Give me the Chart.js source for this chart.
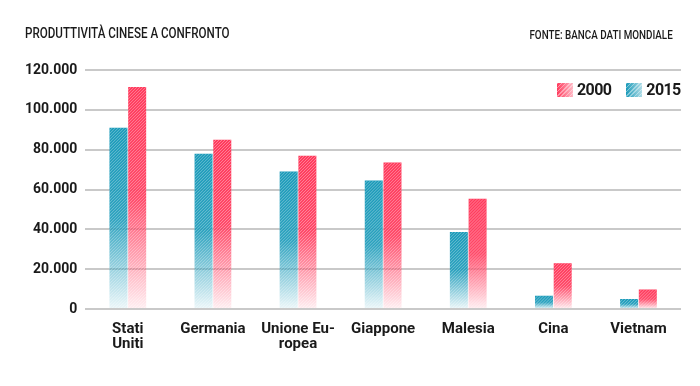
<!DOCTYPE html>
<html>
<head>
<meta charset="utf-8">
<script src="https://cdn.jsdelivr.net/npm/chart.js@4"></script>
<style>
  body { margin: 0; background: #fff; }
  #wrap { position: relative; width: 700px; height: 386px; overflow: hidden; font-family: Roboto, sans-serif; }
  .title { position: absolute; left: 25px; top: 25px; font-size: 14px; font-weight: 500; color: #1a1a1a;
           transform: scaleX(0.83); transform-origin: left top; white-space: nowrap; }
  .source { position: absolute; right: 27px; top: 28px; font-size: 12px; font-weight: 500; color: #1a1a1a;
            transform: scaleX(0.82); transform-origin: right top; white-space: nowrap; }
  .legend { position: absolute; top: 80px; left: 557px; display: flex; align-items: center;
            font-size: 16px; font-weight: 700; color: #1a1a1a; letter-spacing: -0.6px; }
  .legend .sw { width: 16px; height: 14px; margin-right: 4px; }
  .legend .item { display: flex; align-items: center; margin-right: 15px; }
</style>
</head>
<body>
<div id="wrap">
  <canvas id="chart"></canvas>
  <div class="title">PRODUTTIVITÀ CINESE A CONFRONTO</div>
  <div class="source">FONTE: BANCA DATI MONDIALE</div>
  <div class="legend" id="legend"></div>
</div>
<script>
// data
const categories = [["Stati", "Uniti"], "Germania", ["Unione Eu-", "ropea"], "Giappone", "Malesia", "Cina", "Vietnam"];
const values2015 = [91000, 78000, 69000, 64500, 38700, 6700, 5000];
const values2000 = [111500, 85000, 77000, 73500, 55300, 23000, 9800];
const yTicks = [0, 20000, 40000, 60000, 80000, 100000, 120000];

const BLUE = [26, 154, 185];
const RED = [255, 58, 92];
const rgba = (c, a) => `rgba(${c[0]},${c[1]},${c[2]},${a})`;

// fade from full colour at the bar top to almost white at the base
function barFill(col) {
  return (ctx) => {
    const chart = ctx.chart;
    if (!chart.chartArea || ctx.raw == null) return rgba(col, 1);
    const y = chart.scales.y;
    const top = y.getPixelForValue(ctx.raw);
    const bottom = y.getPixelForValue(0);
    const g = chart.ctx.createLinearGradient(0, top, 0, bottom);
    g.addColorStop(0, rgba(col, 1));
    g.addColorStop(0.5, rgba(col, 0.92));
    g.addColorStop(1, rgba(col, 0.08));
    return g;
  };
}

// thin diagonal white hatching over every bar
const hatch = {
  id: "hatch",
  afterDatasetsDraw(chart) {
    const c = chart.ctx;
    chart.data.datasets.forEach((ds, i) => {
      chart.getDatasetMeta(i).data.forEach((bar) => {
        const x0 = bar.x - bar.width / 2;
        const w = bar.width;
        const top = Math.min(bar.y, bar.base);
        const h = Math.abs(bar.base - bar.y);
        c.save();
        c.beginPath();
        c.rect(x0, top, w, h);
        c.clip();
        c.strokeStyle = "rgba(255,255,255,0.35)";
        c.lineWidth = 1;
        c.beginPath();
        for (let k = -h; k < w + 3; k += 3) {
          c.moveTo(x0 + k, top + h);
          c.lineTo(x0 + k + h, top);
        }
        c.stroke();
        c.restore();
      });
    });
  }
};

new Chart(document.getElementById("chart"), {
  type: "bar",
  data: {
    labels: categories,
    datasets: [
      { label: "2015", data: values2015, backgroundColor: barFill(BLUE) },
      { label: "2000", data: values2000, backgroundColor: barFill(RED) }
    ]
  },
  options: {
    responsive: true,
    maintainAspectRatio: false,
    animation: false,
    categoryPercentage: 0.44,
    barPercentage: 0.96,
    layout: { padding: { left: 17, right: 19, top: 70, bottom: 29 } },
    plugins: { legend: { display: false }, tooltip: { enabled: false } },
    scales: {
      x: {
        grid: { display: false },
        border: { display: false },
        ticks: {
          color: "#1a1a1a",
          padding: 5,
          maxRotation: 0,
          autoSkip: false,
          font: { family: "Roboto", size: 15, weight: "bold", lineHeight: 1.0 }
        }
      },
      y: {
        min: 0,
        max: 120000,
        afterBuildTicks: (axis) => { axis.ticks = yTicks.map(v => ({ value: v })); },
        grid: { color: "#c9c9c9", lineWidth: 2, drawTicks: false },
        border: { display: false },
        ticks: {
          color: "#1a1a1a",
          padding: 8,
          font: { family: "Roboto", size: 14, weight: "bold" },
          callback: (v) => v.toLocaleString("it-IT")
        }
      }
    }
  },
  plugins: [hatch]
});

// legend: 2000 first, then 2015
const legend = document.getElementById("legend");
[["2000", RED], ["2015", BLUE]].forEach(([name, col]) => {
  const item = document.createElement("div");
  item.className = "item";
  item.innerHTML = `<span class="sw" style="background:
    repeating-linear-gradient(135deg, rgba(255,255,255,0.4) 0 1px, transparent 1px 3px),
    linear-gradient(90deg, ${rgba(col, 1)}, ${rgba(col, 0.35)});"></span>${name}`;
  legend.appendChild(item);
});
</script>
</body>
</html>
